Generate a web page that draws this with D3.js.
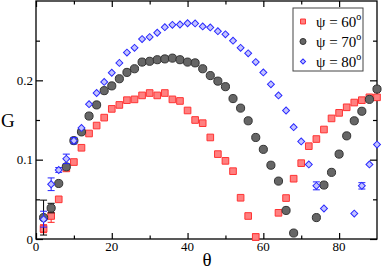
<!DOCTYPE html>
<html>
<head>
<meta charset="utf-8">
<script src="https://cdn.jsdelivr.net/npm/d3@7"></script>
<style>
  body { margin: 0; background: #fff; }
  svg { display: block; font-family: "Liberation Serif", "Times New Roman", serif; }
</style>
</head>
<body>
<svg id="chart" width="382" height="269"></svg>
<script>
// theta values (degrees), one sample every 2 degrees
const theta = d3.range(2, 91, 2);

// G for psi = 60 (null = no point)
const g60 = [0.013, 0.029, 0.050, 0.089, 0.097, 0.115, 0.133, 0.143, 0.153, 0.164,
  0.169, 0.175, 0.176, 0.181, 0.184, 0.181, 0.184, 0.176, 0.174, 0.162,
  0.150, 0.146, 0.128, 0.107, 0.0985, 0.0855, 0.052, 0.029, 0.0025, null,
  null, 0.033, 0.0516, 0.076, 0.0956, 0.117, 0.126, 0.138, 0.152, 0.159,
  0.166, 0.172, 0.175, 0.1786, 0.1786];

// G for psi = 70
const g70 = [0.027, 0.039, 0.070, 0.091, 0.124, 0.135, 0.155, 0.169, 0.187, 0.193,
  0.202, 0.210, 0.2146, 0.223, 0.224, 0.226, 0.227, 0.228, 0.226, 0.223,
  0.222, 0.2146, 0.206, 0.199, 0.192, 0.177, 0.165, 0.149, 0.128, 0.113,
  0.093, 0.073, 0.036, 0.0075, null, null, 0.027, 0.068, 0.084, 0.107,
  0.130, 0.149, 0.161, 0.176, 0.189];

// G for psi = 80
const g80 = [0.025, 0.069, 0.087, 0.101, 0.124, 0.140, 0.170, 0.184, 0.198, 0.2096,
  0.222, 0.235, 0.241, 0.252, 0.2545, 0.260, 0.267, 0.270, 0.2704, 0.272,
  0.2717, 0.268, 0.2667, 0.262, 0.258, 0.250, 0.241, 0.234, 0.223, 0.210,
  0.195, 0.181, 0.162, 0.141, 0.123, 0.094, 0.067, 0.0385, null, null,
  null, 0.032, 0.067, 0.094, 0.119];

// error bars: [theta, half-width]
const err60 = [[2, 0.005], [4, 0.008], [58, 0.004]];
const err70 = [[2, 0.022], [4, 0.006]];
const err80 = [[2, 0.01], [4, 0.008], [6, 0.003], [8, 0.006], [10, 0.004], [74, 0.005], [86, 0.004]];

const xTicks = [0, 20, 40, 60, 80];
const yTicks = [0, 0.1, 0.2];
const legendLabels = ["60", "70", "80"];

const svg = d3.select("#chart");
const margin = { top: 1, right: 5, bottom: 30, left: 36 };
const W = 382, H = 269;
const x = d3.scaleLinear().domain([0, 90]).range([margin.left, W - margin.right]);
const y = d3.scaleLinear().domain([0, 0.3]).range([H - margin.bottom, margin.top]);

// frame
svg.append("rect")
  .attr("x", x(0)).attr("y", y(0.3))
  .attr("width", x(90) - x(0)).attr("height", y(0) - y(0.3))
  .attr("fill", "none").attr("stroke", "#000").attr("stroke-width", 1.3);

// inward ticks on all four sides
function ticks(axisFn, scale, vals, len, transform) {
  svg.append("g").attr("transform", transform)
    .call(axisFn(scale).tickValues(vals).tickSize(len).tickFormat(""))
    .call(g => g.select(".domain").remove())
    .call(g => g.selectAll("line").attr("stroke-width", 1.2));
}
const xMinor = d3.range(10, 90, 20);
const yMinor = [0.05, 0.15, 0.25];
ticks(d3.axisTop, x, xTicks, 6, `translate(0,${y(0)})`);
ticks(d3.axisTop, x, xMinor, 3.5, `translate(0,${y(0)})`);
ticks(d3.axisBottom, x, xTicks, 6, `translate(0,${y(0.3)})`);
ticks(d3.axisBottom, x, xMinor, 3.5, `translate(0,${y(0.3)})`);
ticks(d3.axisRight, y, yTicks, 7, `translate(${x(0)},0)`);
ticks(d3.axisRight, y, yMinor, 4, `translate(${x(0)},0)`);
ticks(d3.axisLeft, y, yTicks, 7, `translate(${x(90)},0)`);
ticks(d3.axisLeft, y, yMinor, 4, `translate(${x(90)},0)`);

// tick labels
svg.append("g").selectAll("text").data(xTicks).join("text")
  .attr("x", d => x(d)).attr("y", 251)
  .attr("text-anchor", "middle").attr("font-size", 13)
  .text(d => d);
svg.append("g").selectAll("text").data(yTicks).join("text")
  .attr("x", x(0) - 3).attr("y", d => y(d) + 4.5)
  .attr("text-anchor", "end").attr("font-size", 13)
  .text(d => d === 0 ? "0" : d3.format(".1f")(d));

// axis titles
svg.append("text").attr("x", 1).attr("y", 127)
  .attr("font-size", 19).text("G");
svg.append("text").attr("x", 207).attr("y", 266)
  .attr("text-anchor", "middle").attr("font-size", 19).text("θ");

// rot: extra rotation so the diamond is a square turned 45 degrees
const series = [
  { vals: g60, err: err60, color: "#ff2020", shape: d3.symbolSquare, size: 44, rot: 0, fill: "#ff8080", stroke: "#ff3333" },
  { vals: g70, err: err70, color: "#000", shape: d3.symbolCircle, size: 52, rot: 0, fill: "#666666", stroke: "#333333" },
  { vals: g80, err: err80, color: "#2222ff", shape: d3.symbolSquare, size: 24, rot: 45, fill: "#c4c4ff", stroke: "#2a2aff" }
];

series.forEach(s => {
  const g = svg.append("g");
  const pts = theta.map((t, i) => ({ t, v: s.vals[i] })).filter(d => d.v != null);
  const lookup = new Map(pts.map(d => [d.t, d.v]));
  const eb = s.err.map(([t, e]) => ({ t, v: lookup.get(t), e }));
  eb.forEach(d => {
    const cx = x(d.t);
    g.append("line").attr("x1", cx).attr("x2", cx)
      .attr("y1", y(d.v - d.e)).attr("y2", y(d.v + d.e))
      .attr("stroke", s.color).attr("stroke-width", 1);
    [d.v - d.e, d.v + d.e].forEach(v => {
      g.append("line").attr("x1", cx - 3.5).attr("x2", cx + 3.5)
        .attr("y1", y(v)).attr("y2", y(v))
        .attr("stroke", s.color).attr("stroke-width", 1);
    });
  });
  g.selectAll("path").data(pts).join("path")
    .attr("d", d3.symbol(s.shape, s.size))
    .attr("transform", d => `translate(${x(d.t)},${y(d.v)}) rotate(${s.rot})`)
    .attr("fill", s.fill).attr("stroke", s.stroke).attr("stroke-width", 1);
});

// legend
const lg = svg.append("g");
lg.append("rect").attr("x", 293).attr("y", 8).attr("width", 70).attr("height", 63)
  .attr("fill", "#fff").attr("stroke", "#444").attr("stroke-width", 1);
series.forEach((s, i) => {
  const cy = 21.5 + i * 20;
  lg.append("path").attr("d", d3.symbol(s.shape, s.size * 0.55))
    .attr("transform", `translate(303,${cy}) rotate(${s.rot})`)
    .attr("fill", s.fill).attr("stroke", s.stroke).attr("stroke-width", 1);
  const t = lg.append("text").attr("x", 316).attr("y", cy + 5).attr("font-size", 15);
  t.append("tspan").text("ψ = " + legendLabels[i]);
  t.append("tspan").attr("dy", -7).attr("font-size", 10).text("o");
});
</script>
</body>
</html>
